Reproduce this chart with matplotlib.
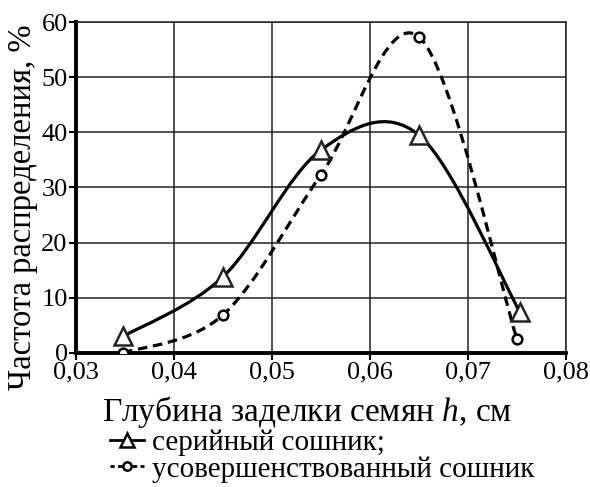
import matplotlib
matplotlib.use('Agg')
import matplotlib.pyplot as plt
from matplotlib.path import Path
from matplotlib.patches import PathPatch
from matplotlib.lines import Line2D

# Data
depth_serial = [0.0348, 0.045, 0.055, 0.065, 0.0753]
freq_serial = [3.0, 13.8, 36.8, 39.5, 7.4]
depth_improved = [0.0348, 0.045, 0.055, 0.065, 0.075]
freq_improved = [0.0, 6.9, 32.3, 57.3, 2.5]
x_ticks = [0.03, 0.04, 0.05, 0.06, 0.07, 0.08]
x_tick_labels = ['0,03', '0,04', '0,05', '0,06', '0,07', '0,08']
y_ticks = [0, 10, 20, 30, 40, 50, 60]
legend_labels = ['серийный сошник;', 'усовершенствованный сошник']

plt.rcParams['font.family'] = ['Liberation Serif', 'DejaVu Serif']
plt.rcParams['mathtext.fontset'] = 'custom'
plt.rcParams['mathtext.it'] = 'Liberation Serif:italic'
plt.rcParams['mathtext.rm'] = 'Liberation Serif'


def smooth_path(xs, ys):
    # Catmull-Rom style cubic Bezier through the points (like a spreadsheet "smoothed line")
    pts = list(zip(xs, ys))
    n = len(pts)
    verts = [pts[0]]
    codes = [Path.MOVETO]
    for i in range(n - 1):
        p0 = pts[i - 1] if i > 0 else pts[i]
        p1 = pts[i]
        p2 = pts[i + 1]
        p3 = pts[i + 2] if i + 2 < n else pts[i + 1]
        c1 = (p1[0] + (p2[0] - p0[0]) / 6, p1[1] + (p2[1] - p0[1]) / 6)
        c2 = (p2[0] - (p3[0] - p1[0]) / 6, p2[1] - (p3[1] - p1[1]) / 6)
        verts += [c1, c2, p2]
        codes += [Path.CURVE4] * 3
    return Path(verts, codes)


fig = plt.figure(figsize=(5.9, 4.87), dpi=100)
ax = fig.add_axes([0.1288, 0.2752, 0.8305, 0.6796])

ax.add_patch(PathPatch(smooth_path(depth_serial, freq_serial), fill=False,
                       edgecolor='black', linewidth=2.3, zorder=3))
ax.add_patch(PathPatch(smooth_path(depth_improved, freq_improved), fill=False,
                       edgecolor='black', linewidth=2.3, linestyle=(0, (3, 1.8)), zorder=3))
ax.plot(depth_serial, freq_serial, linestyle='none', marker='^', markersize=13,
        markerfacecolor='white', markeredgecolor='#222222', markeredgewidth=1.8, zorder=4)
ax.plot(depth_improved, freq_improved, linestyle='none', marker='o', markersize=7,
        markerfacecolor='white', markeredgecolor='black', markeredgewidth=1.8, zorder=4)

ax.set_xlim(0.03, 0.08)
ax.set_ylim(0, 60)
ax.set_xticks(x_ticks)
ax.set_xticklabels(x_tick_labels)
ax.set_yticks(y_ticks)
ax.grid(True, color='#222222', linewidth=1.1)
ax.set_axisbelow(True)
for s in ['top', 'right']:
    ax.spines[s].set_linewidth(1.1)
    ax.spines[s].set_color('#222222')
for s in ['left', 'bottom']:
    ax.spines[s].set_linewidth(2.8)
ax.tick_params(direction='out', length=5, width=1.5, labelsize=19, pad=1)

ax.set_ylabel('Частота распределения, %', fontsize=23.5)
ax.yaxis.set_label_coords(-0.078, 0.44)
ax.set_xlabel('Глубина заделки семян $h$, см', fontsize=24)
ax.xaxis.set_label_coords(0.471, -0.125)

handles = [
    Line2D([], [], color='black', linewidth=2.0, marker='^', markersize=10,
           markerfacecolor='white', markeredgecolor='black', markeredgewidth=1.8),
    Line2D([], [], color='black', linewidth=2.0, linestyle=(0, (1.5, 1.2)), marker='o', markersize=6,
           markerfacecolor='white', markeredgecolor='black', markeredgewidth=1.8),
]
fig.legend(handles, legend_labels, loc='upper left', bbox_to_anchor=(0.162, 0.148),
           frameon=False, handlelength=1.15, handletextpad=0.3, labelspacing=0.0,
           borderpad=0, fontsize=21)

fig.savefig('out.png', dpi=100)
